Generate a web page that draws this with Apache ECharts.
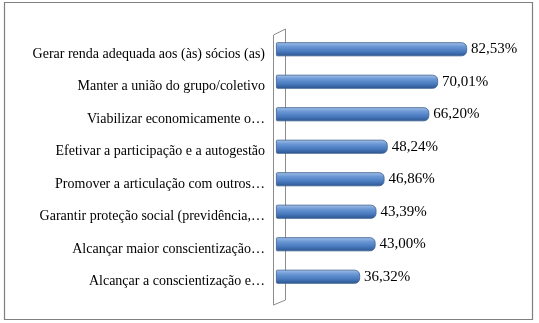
<!DOCTYPE html>
<html><head><meta charset="utf-8">
<script src="https://cdn.jsdelivr.net/npm/echarts@6/dist/echarts.min.js"></script>
<style>html,body{margin:0;padding:0;background:#fff}#c{width:539px;height:323px}</style>
</head><body><div id="c"></div>
<script>
const categories = [
  "Gerar renda adequada aos (às) sócios (as)",
  "Manter a união do grupo/coletivo",
  "Viabilizar economicamente o…",
  "Efetivar a participação e a autogestão",
  "Promover a articulação com outros…",
  "Garantir proteção social (previdência,…",
  "Alcançar maior conscientização…",
  "Alcançar a conscientização e…"
];
const values = [82.53, 70.01, 66.20, 48.24, 46.86, 43.39, 43.00, 36.32];

const chart = echarts.init(document.getElementById('c'), null, {renderer:'canvas'});
const FONT = '"Liberation Serif","Times New Roman",serif';
const barGrad = new echarts.graphic.LinearGradient(0,0,0,1,[
  {offset:0, color:'#a6c3ea'},
  {offset:0.3, color:'#6b98d5'},
  {offset:0.65, color:'#4a7bbf'},
  {offset:1, color:'#2a548f'}
]);
chart.setOption({
  animation:false,
  grid:{left:276, top:33, height:260, right:31.5},
  xAxis:{type:'value', min:0, max:100, show:false},
  yAxis:{type:'category', data:categories, inverse:true,
    axisLine:{show:false}, axisTick:{show:false}, splitLine:{show:false},
    axisLabel:{margin:11, formatter:v=>'{a|'+v+'}',
      rich:{a:{fontFamily:FONT, fontSize:14, color:'#000', padding:[10,0,0,0]}}}},
  series:[{type:'bar', data:values, barWidth:14,
    itemStyle:{color:barGrad, borderColor:'#3b5f8f', borderWidth:0.8, borderRadius:[1,5,5,1]},
    label:{show:true, position:'right', distance:4, fontFamily:FONT, fontSize:15, color:'#000',
      formatter:p=>p.value.toFixed(2).replace('.',',')+'%'}
  }]
});
const x0 = chart.convertToPixel({xAxisIndex:0}, 0);
const gTop = 33, gBot = 293;
chart.setOption({graphic:[
  {type:'rect', shape:{x:4.5,y:2.5,width:528,height:317}, style:{fill:null, stroke:'#7f7f7f', lineWidth:1.2}, z:-10},
  {type:'polyline', shape:{points:[[x0-2.5,gTop+2],[x0+9.5,gTop-4],[x0+9.5,gBot+7],[x0-2.5,gBot+12],[x0-2.5,gTop+2]]},
    style:{fill:null, stroke:'#8c8c8c', lineWidth:1}, z:-5}
]});
</script></body></html>
